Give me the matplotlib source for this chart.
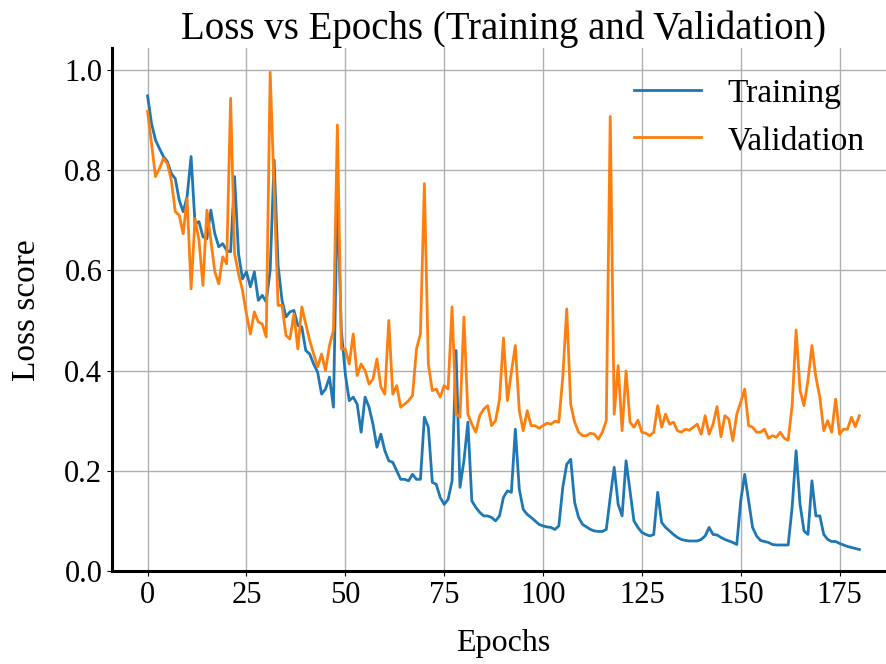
import numpy as np
import matplotlib
matplotlib.use("Agg")
import matplotlib.pyplot as plt

# Значения (по одному на эпоху, 0..180)
train_loss = [
    0.948, 0.893, 0.860, 0.843, 0.827, 0.817, 0.793, 0.783, 0.740, 0.717,
    0.747, 0.827, 0.693, 0.697, 0.667, 0.663, 0.720, 0.673, 0.647, 0.653,
    0.640, 0.637, 0.787, 0.633, 0.583, 0.597, 0.567, 0.597, 0.540, 0.550,
    0.537, 0.600, 0.820, 0.610, 0.540, 0.507, 0.517, 0.520, 0.490, 0.487,
    0.440, 0.433, 0.413, 0.397, 0.353, 0.363, 0.387, 0.327, 0.753, 0.480,
    0.393, 0.340, 0.347, 0.333, 0.277, 0.347, 0.327, 0.293, 0.247, 0.273,
    0.240, 0.220, 0.217, 0.200, 0.183, 0.183, 0.180, 0.193, 0.183, 0.183,
    0.307, 0.287, 0.177, 0.173, 0.147, 0.133, 0.143, 0.180, 0.440, 0.167,
    0.220, 0.297, 0.140, 0.127, 0.117, 0.110, 0.110, 0.107, 0.100, 0.110,
    0.147, 0.160, 0.157, 0.283, 0.163, 0.123, 0.113, 0.107, 0.100, 0.093,
    0.090, 0.088, 0.087, 0.083, 0.090, 0.167, 0.213, 0.223, 0.137, 0.107,
    0.093, 0.088, 0.083, 0.080, 0.079, 0.079, 0.083, 0.147, 0.207, 0.133,
    0.110, 0.220, 0.160, 0.100, 0.087, 0.077, 0.073, 0.070, 0.073, 0.157,
    0.097, 0.087, 0.080, 0.073, 0.067, 0.063, 0.061, 0.060, 0.060, 0.060,
    0.063, 0.070, 0.087, 0.073, 0.072, 0.067, 0.063, 0.060, 0.057, 0.053,
    0.140, 0.193, 0.140, 0.087, 0.070, 0.061, 0.059, 0.057, 0.053, 0.052,
    0.052, 0.052, 0.052, 0.127, 0.240, 0.133, 0.080, 0.073, 0.180, 0.110,
    0.110, 0.073, 0.063, 0.059, 0.059, 0.055, 0.052, 0.049, 0.047, 0.045,
    0.043,
]

val_loss = [
    0.917, 0.853, 0.787, 0.803, 0.823, 0.813, 0.780, 0.717, 0.710, 0.673,
    0.743, 0.563, 0.703, 0.660, 0.570, 0.720, 0.660, 0.597, 0.573, 0.627,
    0.613, 0.943, 0.633, 0.593, 0.560, 0.513, 0.473, 0.517, 0.497, 0.493,
    0.467, 0.995, 0.760, 0.530, 0.530, 0.470, 0.463, 0.513, 0.443, 0.527,
    0.493, 0.460, 0.433, 0.407, 0.433, 0.400, 0.450, 0.480, 0.890, 0.443,
    0.443, 0.413, 0.473, 0.390, 0.413, 0.400, 0.373, 0.383, 0.423, 0.367,
    0.353, 0.500, 0.353, 0.370, 0.327, 0.333, 0.340, 0.350, 0.443, 0.473,
    0.773, 0.413, 0.360, 0.363, 0.347, 0.370, 0.363, 0.527, 0.313, 0.307,
    0.507, 0.313, 0.293, 0.277, 0.310, 0.323, 0.330, 0.290, 0.300, 0.343,
    0.465, 0.340, 0.397, 0.450, 0.320, 0.280, 0.320, 0.290, 0.290, 0.285,
    0.290, 0.295, 0.293, 0.299, 0.297, 0.387, 0.523, 0.333, 0.297, 0.277,
    0.270, 0.270, 0.275, 0.273, 0.263, 0.277, 0.300, 0.907, 0.313, 0.410,
    0.280, 0.399, 0.297, 0.287, 0.301, 0.277, 0.275, 0.270, 0.277, 0.330,
    0.287, 0.313, 0.293, 0.297, 0.280, 0.277, 0.283, 0.281, 0.287, 0.293,
    0.273, 0.310, 0.273, 0.293, 0.328, 0.268, 0.310, 0.303, 0.260, 0.313,
    0.337, 0.363, 0.290, 0.287, 0.277, 0.277, 0.283, 0.265, 0.270, 0.267,
    0.277, 0.265, 0.261, 0.330, 0.481, 0.360, 0.330, 0.380, 0.450, 0.387,
    0.347, 0.280, 0.300, 0.277, 0.343, 0.273, 0.283, 0.283, 0.307, 0.288,
    0.310,
]

epochs = np.arange(len(train_loss))

plt.rcParams["font.family"] = ["Liberation Serif", "DejaVu Serif"]

fig = plt.figure(figsize=(8.86, 6.64), dpi=100)
# оси шире картинки справа, как в оригинале (обрезано)
ax = fig.add_axes([0.1264, 0.140, 0.8837, 0.787])

ax.plot(epochs, train_loss, color="#1f77b4", linewidth=2, label="Training")
ax.plot(epochs, val_loss, color="#ff7f0e", linewidth=2, label="Validation")

ax.set_ylim(bottom=0)
ax.set_xticks([0, 25, 50, 75, 100, 125, 150, 175])
ax.set_yticks([0.0, 0.2, 0.4, 0.6, 0.8, 1.0])
ax.grid(True, color="#b0b0b0", linewidth=1)
ax.set_axisbelow(True)

for side in ["top", "right"]:
    ax.spines[side].set_visible(False)
for side in ["left", "bottom"]:
    ax.spines[side].set_linewidth(2.2)
    ax.spines[side].set_color("black")

ax.tick_params(axis="both", labelsize=22, length=3.5)
ax.set_title("Loss vs Epochs (Training and Validation)", fontsize=28)
ax.set_xlabel("Epochs", fontsize=23, labelpad=14)
ax.set_ylabel("Loss score", fontsize=24, labelpad=16)
ax.legend(loc="upper right", frameon=False, fontsize=24)

fig.savefig("out.png", dpi=100)
